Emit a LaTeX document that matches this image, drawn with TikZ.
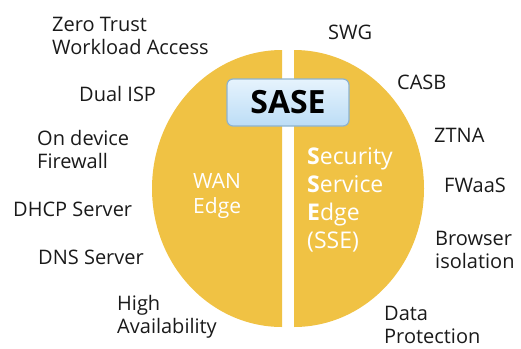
\documentclass[tikz,border=0pt]{standalone}
\usepackage{fontspec}
\setmainfont{Open Sans}
\usetikzlibrary{positioning}

\definecolor{saseyellow}{HTML}{F0C244}
\definecolor{boxtop}{HTML}{E6F3FD}
\definecolor{boxbottom}{HTML}{BCDDF6}
\definecolor{boxline}{HTML}{8DB3CF}
\definecolor{labeltext}{HTML}{1A1A1A}

\begin{document}
\begin{tikzpicture}[
    x=1pt, y=-1pt,
    half/.style={fill=saseyellow},
    item/.style={anchor=base west, align=left, inner sep=0pt, text=labeltext, font=\fontsize{20}{23.5}\selectfont},
    inside/.style={anchor=base west, align=left, inner sep=0pt, text=white},
    badge/.style={draw=boxline, line width=1.2pt, rounded corners=6pt, top color=boxtop, bottom color=boxbottom,
                  minimum width=122pt, minimum height=47pt, font=\fontsize{32}{36}\selectfont\bfseries}
]
\useasboundingbox (0,0) rectangle (521,348);

% Two halves of the circle
\fill[half] (282,50) arc[start angle=270, end angle=90, x radius=130, y radius=138.5] -- cycle;
\fill[half] (294,50) arc[start angle=-90, end angle=90, x radius=130, y radius=138.5] -- cycle;

% Title badge
\node[badge] (sase) at (288,102.5) {SASE};

% Texts inside the halves (placed at the last baseline)
\node[inside, font=\fontsize{21}{25.5}\selectfont] (wan) at (193,213.5) {WAN\\Edge};
\node[inside, font=\fontsize{23}{28}\selectfont] (sse) at (307,248) {\textbf{S}ecurity\\\textbf{S}ervice\\\textbf{E}dge\\(SSE)};

% Left side labels
\node[item] (ztwa) at (52,54.5) {Zero Trust\\Workload Access};
\node[item] (isp) at (79,101) {Dual ISP};
\node[item] (fw) at (37,168.5) {On device\\Firewall};
\node[item] (dhcp) at (13,216) {DHCP Server};
\node[item] (dns) at (38,264) {DNS Server};
\node[item] (ha) at (117,333.5) {High\\Availability};

% Right side labels
\node[item] (swg) at (328,39) {SWG};
\node[item] (casb) at (397,89) {CASB};
\node[item] (ztna) at (434,142) {ZTNA};
\node[item] (fwaas) at (444,192) {FWaaS};
\node[item] (rbi) at (435,268.5) {Browser\\isolation};
\node[item] (dp) at (384,343.5) {Data\\Protection};

\end{tikzpicture}
\end{document}
